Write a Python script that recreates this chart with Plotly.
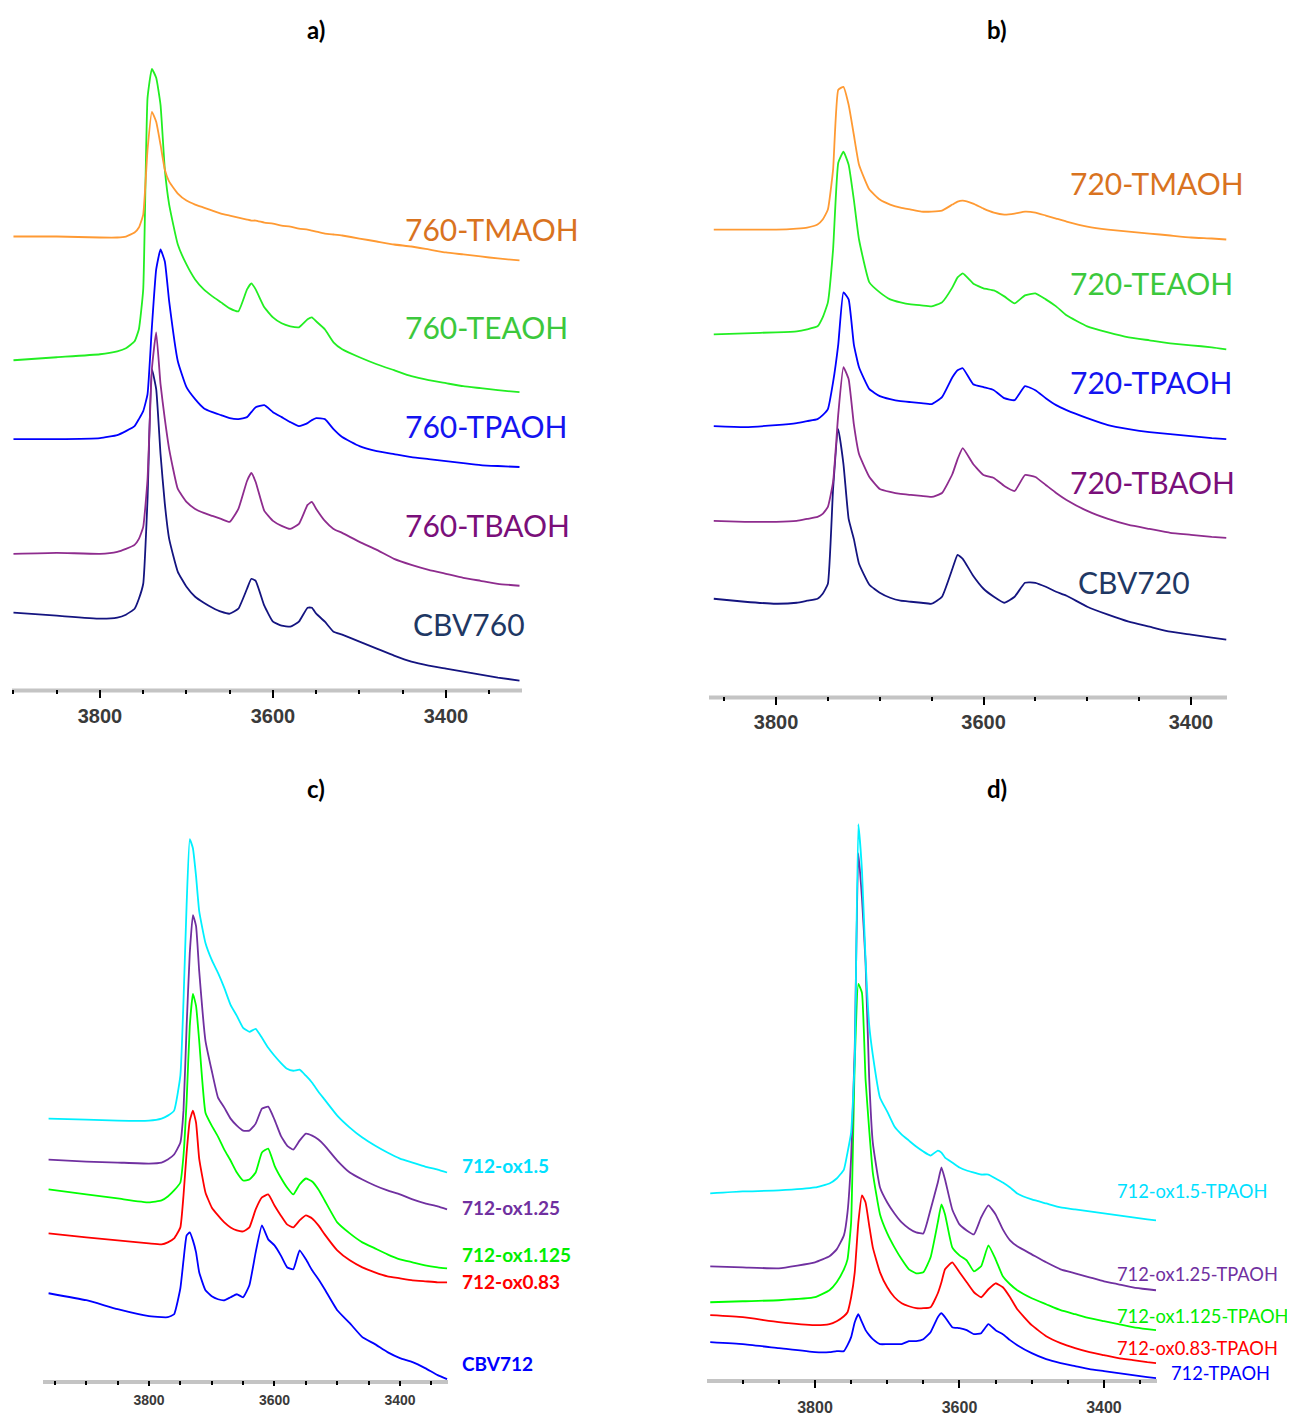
import plotly.graph_objects as go

# ---------------- DATA : wavenumber (cm-1) and stacked absorbance (arbitrary offset units) ----------------
# panel a) CBV760 series
wn_a = [3900, 3850, 3800, 3780, 3770, 3760, 3755, 3750, 3745, 3740, 3735, 3730, 3725, 3720,
        3710, 3700, 3690, 3680, 3670, 3660, 3650, 3640, 3630, 3625, 3620, 3610, 3600, 3590,
        3580, 3570, 3560, 3555, 3550, 3540, 3530, 3520, 3500, 3480, 3460, 3440, 3420, 3400,
        3380, 3360, 3340, 3315]
a_tmaoh = [453, 453, 452, 452, 453, 457, 462, 475, 540, 578, 568, 545, 520, 508, 496, 489, 485, 482,
           479, 476, 474, 472, 470, 469, 469, 467, 466, 464, 463, 461, 460, 459, 458, 456, 455, 454,
           451, 448, 445, 443, 440, 437, 435, 433, 431, 429]
a_teaoh = [329, 332, 335, 338, 341, 348, 360, 400, 592, 621, 612, 585, 520, 485, 445, 425, 410, 400,
           393, 387, 381, 378, 400, 406, 400, 382, 372, 366, 363, 362, 370, 372, 368, 360, 347, 340,
           332, 325, 319, 313, 309, 306, 303, 301, 299, 297]
a_tpaoh = [250, 250, 251, 254, 258, 263, 270, 278, 295, 362, 420, 440, 428, 388, 328, 302, 290, 281,
           277, 274, 271, 270, 272, 277, 282, 284, 277, 272, 267, 263, 266, 269, 271, 270, 260, 252,
           243, 238, 235, 232, 230, 228, 226, 224, 223, 222]
a_tbaoh = [135, 136, 135, 137, 140, 144, 150, 162, 210, 320, 357, 305, 270, 240, 200, 187, 180, 176,
           173, 170, 167, 180, 208, 216, 207, 178, 168, 163, 160, 165, 184, 187, 180, 168, 160, 156,
           147, 139, 130, 124, 119, 115, 111, 108, 105, 103]
a_cbv760 = [76, 73, 70, 71, 74, 80, 90, 105, 190, 320, 300, 235, 185, 150, 117, 102, 92, 86,
            81, 77, 75, 80, 100, 110, 108, 83, 67, 63, 62, 67, 81, 81, 75, 67, 57, 54,
            47, 40, 33, 27, 23, 20, 17, 14, 11, 8]
names_a = ["760-TMAOH", "760-TEAOH", "760-TPAOH", "760-TBAOH", "CBV760"]

# panel b) CBV720 series
wn_b = [3860, 3830, 3800, 3780, 3770, 3760, 3755, 3750, 3745, 3740, 3735, 3730, 3725, 3720,
        3710, 3700, 3690, 3680, 3670, 3660, 3650, 3640, 3630, 3625, 3620, 3610, 3600, 3590,
        3580, 3570, 3560, 3550, 3540, 3530, 3520, 3500, 3480, 3460, 3440, 3420, 3400, 3380, 3366]
b_tmaoh = [467, 467, 467, 468, 469, 472, 477, 487, 527, 607, 610, 592, 562, 532, 507, 497, 492, 489,
           487, 485, 485, 486, 492, 495, 496, 493, 488, 484, 482, 483, 485, 484, 481, 478, 475, 470,
           467, 465, 463, 461, 459, 458, 457]
b_teaoh = [362, 363, 364, 365, 367, 370, 379, 394, 447, 534, 545, 532, 497, 457, 414, 404, 397, 394,
           392, 391, 390, 394, 409, 419, 423, 413, 408, 406, 400, 393, 401, 403, 397, 390, 381, 370,
           364, 359, 356, 353, 351, 349, 347]
b_tpaoh = [270, 269, 271, 273, 275, 277, 281, 287, 314, 352, 404, 397, 352, 329, 307, 300, 297, 295,
           294, 293, 292, 299, 319, 326, 328, 312, 309, 306, 298, 296, 310, 306, 298, 291, 286, 278,
           271, 267, 264, 262, 260, 258, 257]
b_tbaoh = [175, 174, 174, 175, 177, 179, 182, 189, 214, 282, 329, 317, 272, 242, 219, 207, 204, 202,
           201, 200, 199, 203, 222, 237, 248, 232, 221, 218, 210, 205, 221, 219, 211, 203, 196, 185,
           177, 171, 167, 163, 161, 159, 158]
b_cbv720 = [97, 94, 92, 93, 95, 97, 102, 112, 207, 267, 232, 177, 157, 132, 111, 103, 98, 95,
            94, 93, 92, 99, 127, 141, 137, 120, 107, 99, 93, 99, 113, 113, 109, 104, 100, 89,
            81, 74, 69, 64, 61, 58, 56]
names_b = ["720-TMAOH", "720-TEAOH", "720-TPAOH", "720-TBAOH", "CBV720"]

# panel c) CBV712 oxalic series
wn_c = [3960, 3900, 3850, 3800, 3780, 3770, 3760, 3750, 3745, 3740, 3735, 3730, 3725, 3720,
        3710, 3700, 3690, 3680, 3670, 3660, 3650, 3640, 3630, 3620, 3610, 3600, 3590, 3580,
        3570, 3560, 3550, 3540, 3530, 3520, 3500, 3480, 3460, 3440, 3420, 3400, 3380, 3360, 3340, 3325]
c_ox150 = [262, 261, 260, 260, 262, 265, 270, 305, 380, 477, 542, 533, 505, 470, 438, 421, 408, 393,
           376, 365, 353, 349, 352, 343, 333, 325, 318, 312, 310, 311, 305, 298, 289, 281, 265, 253,
           243, 235, 228, 222, 218, 214, 211, 208]
c_ox125 = [221, 219, 218, 217, 218, 221, 226, 238, 270, 355, 428, 466, 455, 410, 340, 310, 283, 273,
           262, 255, 250, 250, 257, 272, 274, 261, 245, 235, 231, 240, 247, 245, 241, 235, 220, 208,
           201, 195, 190, 186, 181, 177, 174, 171]
c_ox1125 = [191, 186, 182, 178, 180, 184, 190, 198, 225, 280, 355, 387, 375, 340, 268, 255, 244, 231,
            220, 208, 200, 201, 208, 228, 232, 215, 203, 193, 186, 196, 202, 199, 191, 180, 158, 147,
            138, 132, 126, 121, 118, 115, 113, 112]
c_ox083 = [147, 143, 140, 137, 136, 138, 142, 153, 185, 228, 260, 270, 258, 222, 188, 173, 165, 158,
           153, 150, 149, 153, 171, 183, 186, 175, 165, 156, 153, 160, 165, 162, 155, 146, 130, 120,
           113, 108, 104, 102, 100, 99, 98, 98]
c_cbv712 = [87, 80, 71, 64, 63, 63, 66, 92, 120, 145, 148, 140, 128, 108, 90, 84, 81, 80,
            83, 86, 83, 95, 128, 155, 141, 135, 125, 113, 111, 130, 121, 110, 101, 91, 70, 57,
            43, 36, 28, 22, 18, 12, 5, 1]
names_c = ["712-ox1.5", "712-ox1.25", "712-ox1.125", "712-ox0.83", "CBV712"]

# panel d) oxalic + TPAOH series
wn_d = [3945, 3900, 3850, 3800, 3780, 3770, 3760, 3755, 3750, 3745, 3740, 3735, 3730, 3725, 3720,
        3710, 3700, 3690, 3680, 3670, 3660, 3650, 3640, 3630, 3625, 3620, 3610, 3600, 3590, 3580,
        3570, 3560, 3550, 3540, 3530, 3520, 3500, 3480, 3460, 3440, 3420, 3400, 3380, 3360, 3340, 3328]
d_ox150 = [186, 188, 189, 192, 196, 201, 210, 227, 247, 320, 556, 510, 420, 355, 325, 282, 268, 253,
           245, 239, 233, 228, 224, 229, 227, 222, 217, 212, 209, 207, 205, 205, 201, 197, 192, 186,
           180, 176, 172, 170, 168, 166, 164, 162, 160, 159]
d_ox125 = [113, 112, 111, 117, 123, 130, 144, 167, 222, 332, 527, 482, 417, 302, 237, 192, 177, 166,
           157, 151, 147, 146, 170, 197, 212, 200, 170, 155, 149, 145, 162, 174, 165, 150, 139, 133,
           125, 117, 110, 106, 102, 98, 95, 92, 90, 89]
d_ox1125 = [77, 78, 79, 82, 89, 97, 110, 120, 157, 317, 396, 387, 300, 250, 207, 165, 146, 132,
            120, 110, 106, 107, 122, 157, 175, 165, 132, 124, 119, 108, 113, 134, 120, 103, 95, 89,
            81, 75, 69, 65, 61, 58, 55, 52, 50, 49]
d_ox083 = [64, 62, 57, 54, 55, 58, 63, 67, 82, 107, 157, 184, 177, 154, 132, 107, 92, 82,
           76, 73, 71, 71, 72, 86, 97, 110, 117, 107, 97, 87, 82, 90, 96, 92, 82, 70,
           54, 43, 36, 31, 27, 24, 21, 19, 17, 16]
d_tpaoh = [37, 35, 31, 27, 27, 28, 28, 34, 42, 57, 65, 57, 49, 44, 40, 35, 35, 35,
           35, 38, 38, 40, 47, 62, 66, 62, 52, 51, 49, 45, 46, 55, 49, 45, 39, 34,
           26, 20, 16, 13, 10, 8, 6, 4, 2, 1]
names_d = ["712-ox1.5-TPAOH", "712-ox1.25-TPAOH", "712-ox1.125-TPAOH", "712-ox0.83-TPAOH", "712-TPAOH"]

tick_vals = [3800, 3600, 3400]
tick_text = ["3800", "3600", "3400"]
panel_titles = ["a)", "b)", "c)", "d)"]

# ---------------- STYLE / LAYOUT ----------------
OFF = 8                      # default page-body margin of the html page
W, H = 1295 - OFF, 1416 - OFF
LABEL_FONT = "Lato, 'Open Sans', sans-serif"
TICK_FONT = "'Liberation Sans', Arial, sans-serif"

def fx(px):
    return (px - OFF) / W

def fy(py):
    return 1 - (py - OFF) / H

line_ab = ["#FF9A33", "#22EE22", "#0000FF", "#8E2C8E", "#141480"]
text_ab = ["#D9731F", "#3CC83C", "#1414F0", "#7A0F7A", "#1F3864"]
line_cd = ["#00F0FF", "#7030A0", "#00FF00", "#FF0000", "#0000FF"]
text_cd = ["#00E0FF", "#7030A0", "#00EE00", "#FF0000", "#0000FF"]

fig = go.Figure()

panels = [
    dict(xa="x", ya="y", xpx=(12, 522), axis=690, top=40, xr=(3901.7, 3312.1), fs=20, tl=8, so=1),
    dict(xa="x2", ya="y2", xpx=(709, 1227), axis=697, top=40, xr=(3864.6, 3365.3), fs=20, tl=8, so=0),
    dict(xa="x3", ya="y3", xpx=(43, 448), axis=1383, top=800, xr=(3968.9, 3323.5), fs=14, tl=5, so=2),
    dict(xa="x4", ya="y4", xpx=(707, 1157), axis=1382, top=800, xr=(3949.5, 3326.6), fs=16, tl=8, so=6),
]

series = [
    (wn_a, [a_tmaoh, a_teaoh, a_tpaoh, a_tbaoh, a_cbv760], names_a, line_ab),
    (wn_b, [b_tmaoh, b_teaoh, b_tpaoh, b_tbaoh, b_cbv720], names_b, line_ab),
    (wn_c, [c_ox150, c_ox125, c_ox1125, c_ox083, c_cbv712], names_c, line_cd),
    (wn_d, [d_ox150, d_ox125, d_ox1125, d_ox083, d_tpaoh], names_d, line_cd),
]

for p, (xs, ys_list, names, colors) in zip(panels, series):
    for ys, nm, col in reversed(list(zip(ys_list, names, colors))):
        fig.add_trace(go.Scatter(x=xs, y=ys, mode="lines", name=nm,
                                 line=dict(color=col, width=1.8, shape="spline", smoothing=0.4),
                                 xaxis=p["xa"], yaxis=p["ya"], showlegend=False,
                                 hoverinfo="skip"))

layout = dict(width=W, height=H, margin=dict(l=0, r=0, t=0, b=0),
              paper_bgcolor="white", plot_bgcolor="rgba(0,0,0,0)", showlegend=False)
shapes = []
for i, p in enumerate(panels):
    sfx = "" if i == 0 else str(i + 1)
    x0, x1 = fx(p["xpx"][0]), fx(p["xpx"][1])
    layout["xaxis" + sfx] = dict(
        domain=[x0, x1], range=list(p["xr"]), anchor=p["ya"],
        showline=False, showgrid=False, zeroline=False, fixedrange=True,
        tickmode="array", tickvals=tick_vals, ticktext=tick_text,
        ticks="outside", ticklen=p["tl"], tickwidth=2, tickcolor="black",
        ticklabelstandoff=p["so"],
        tickfont=dict(family=TICK_FONT, size=p["fs"], color="#3a3a3a", weight="bold"),
        minor=dict(ticks="outside", ticklen=4, tickwidth=2, tickcolor="black",
                   dtick=50, tick0=0, showgrid=False),
    )
    layout["yaxis" + sfx] = dict(
        domain=[fy(p["axis"]), fy(p["top"])], range=[0, p["axis"] - p["top"]],
        anchor=p["xa"], visible=False, fixedrange=True)
    yl = fy(p["axis"] + 2)
    shapes.append(dict(type="line", xref="paper", yref="paper", x0=x0, x1=x1, y0=yl, y1=yl,
                       line=dict(color="#C4C4C4", width=4), layer="below"))
layout["shapes"] = shapes

ann = []
def txt(x, y, s, color, size, bold=False, anchor="left"):
    ann.append(dict(x=fx(x), y=fy(y), xref="paper", yref="paper", text=s, showarrow=False,
                    xanchor=anchor, yanchor="middle", borderpad=0,
                    font=dict(family=LABEL_FONT, size=size, color=color,
                              weight="bold" if bold else "normal")))

for t, (x, y) in zip(panel_titles, [(316, 30), (997, 30), (316, 790), (997, 790)]):
    txt(x, y, t, "black", 24, bold=True, anchor="center")

for nm, col, (x, y) in zip(names_a, text_ab, [(404, 229), (404, 328), (404, 427), (404, 526), (412, 625)]):
    txt(x, y, nm, col, 30)
for nm, col, (x, y) in zip(names_b, text_ab, [(1069, 183), (1069, 284), (1069, 383), (1069, 483), (1077, 583)]):
    txt(x, y, nm, col, 30)
for nm, col, (x, y) in zip(names_c, text_cd, [(461, 1168), (461, 1210), (461, 1257), (461, 1284), (461, 1366)]):
    txt(x, y, nm, col, 19, bold=True)
for nm, col, (x, y) in zip(names_d, text_cd, [(1116, 1194), (1116, 1277), (1116, 1319), (1116, 1351), (1170, 1376)]):
    txt(x, y, nm, col, 18.3)
layout["annotations"] = ann

fig.update_layout(**layout)
fig.write_html("out.html")
